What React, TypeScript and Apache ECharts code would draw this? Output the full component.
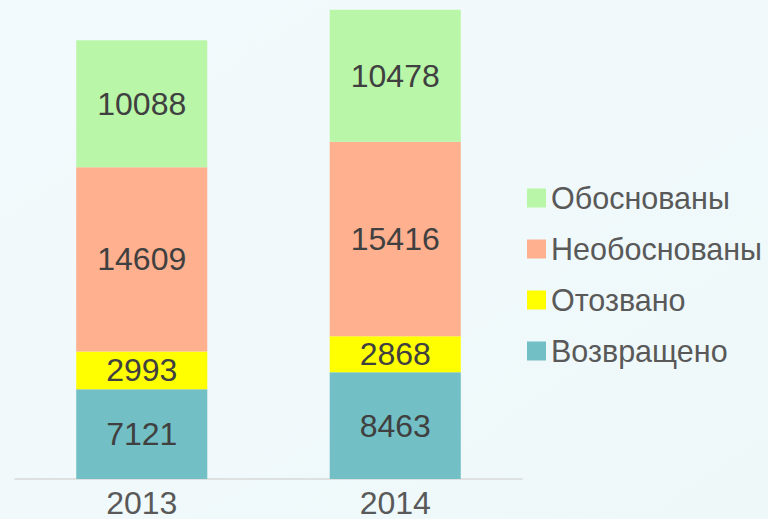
import React, { useEffect, useRef } from "react";
import * as echarts from "echarts";

const categories = ["2013", "2014"];
const seriesNames = ["Возвращено", "Отозвано", "Необоснованы", "Обоснованы"];
const returned = [7121, 8463];
const withdrawn = [2993, 2868];
const unfounded = [14609, 15416];
const founded = [10088, 10478];
const colors = ["#72bfc5", "#ffff00", "#ffb08f", "#b9f6a8"];

export default function App() {
  const ref = useRef<HTMLDivElement>(null);
  useEffect(() => {
    if (!ref.current) return;
    const chart = echarts.init(ref.current, null, { renderer: "svg" });
    const values = [returned, withdrawn, unfounded, founded];
    chart.setOption({
      animation: false,
      backgroundColor: {
        type: "linear",
        x: 0, y: 0, x2: 1, y2: 1,
        colorStops: [
          { offset: 0, color: "#f3fafd" },
          { offset: 1, color: "#eef8f9" },
        ],
      },
      grid: { left: 15, top: 0, width: 507, height: 481, containLabel: false },
      legend: {
        orient: "vertical",
        left: 522,
        top: 177,
        itemWidth: 19,
        itemHeight: 19,
        itemGap: 19,
        icon: "rect",
        data: ["Обоснованы", "Необоснованы", "Отозвано", "Возвращено"],
        textStyle: {
          fontFamily: "Liberation Sans",
          fontSize: 30.5,
          lineHeight: 32,
          color: "#595959",
        },
        itemStyle: { borderWidth: 0 },
      },
      xAxis: {
        type: "category",
        data: categories,
        axisLine: { lineStyle: { color: "#d9d9d9", width: 1.5 } },
        axisTick: { show: false },
        axisLabel: {
          fontFamily: "Liberation Sans",
          fontSize: 32,
          color: "#595959",
          margin: 8,
        },
      },
      yAxis: {
        type: "value",
        min: 0,
        max: 38000,
        show: false,
        splitLine: { show: false },
      },
      series: seriesNames.map((name, i) => ({
        name,
        type: "bar",
        stack: "total",
        data: values[i],
        barWidth: "51.7%",
        itemStyle: { color: colors[i] },
        label: {
          show: true,
          position: "inside",
          fontFamily: "Liberation Sans",
          fontSize: 32,
          color: "#404040",
        },
      })),
    });
    return () => chart.dispose();
  }, []);
  return (
    <div
      ref={ref}
      style={{ position: "fixed", left: 0, top: 0, width: 768, height: 519 }}
    />
  );
}
